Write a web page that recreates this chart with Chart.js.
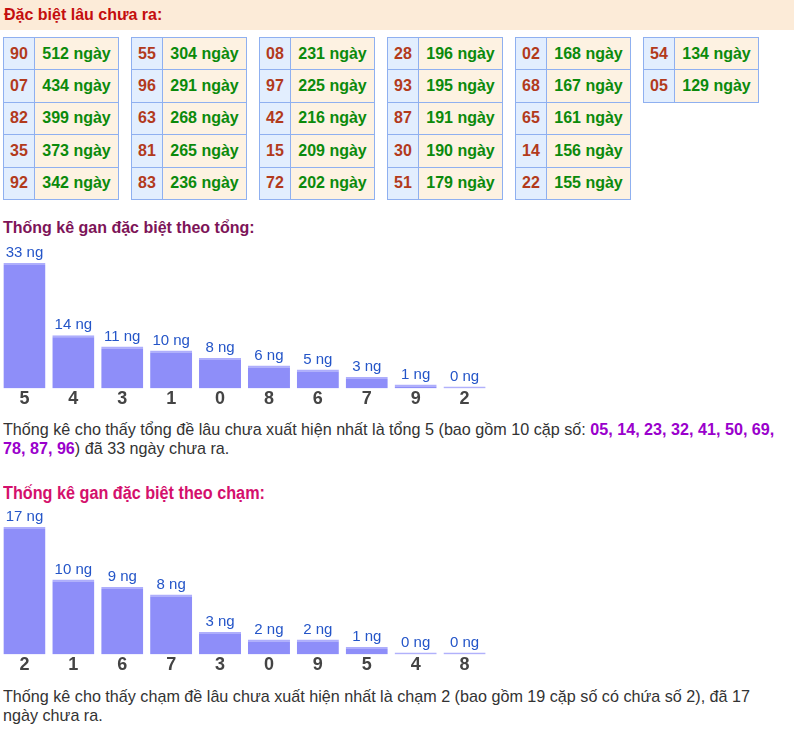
<!DOCTYPE html>
<html lang="vi">
<head>
<meta charset="utf-8">
<title>Gan đặc biệt</title>
<script src="https://cdn.jsdelivr.net/npm/chart.js@4.4.1/dist/chart.umd.min.js"></script>
<style>
    body { margin: 0; width: 794px; height: 730px; position: relative; background: #fff; font-family: "Liberation Sans", Arial, sans-serif; overflow: hidden; }
    .head { position: absolute; left: 0; top: 0; width: 794px; height: 30px; background: #fcebd8; color: #c40e0e; font-weight: bold; font-size: 16px; line-height: 29px; padding-left: 4px; box-sizing: border-box; }
    .tables { position: absolute; left: 3px; top: 37px; }
    .tables table { position: absolute; top: 0; width: 115px; table-layout: fixed; border-collapse: collapse; font-weight: bold; font-size: 16px; white-space: nowrap; }
    .tables td { border: 1px solid #8fb0f0; height: 31.4px; padding: 0; text-align: center; }
    .tables td.so { background: #e2eefe; color: #b23a1c; }
    .tables td.ngay { background: #fdf2e2; color: #0b8a0b; }
    h3 { position: absolute; left: 3px; margin: 0; font-size: 16px; line-height: 18px; white-space: nowrap; }
    .t1 { top: 219px; color: #7d1458; }
    .t2 { top: 484px; color: #d4106c; font-size: 18px; transform: scaleX(0.9); transform-origin: left center; }
    .box { position: absolute; left: 0; width: 489px; }
    p { position: absolute; left: 3px; width: 821px; margin: 0; font-size: 17px; line-height: 19px; color: #333; transform: scaleX(0.95); transform-origin: left top; }
    p b { color: #9a00cc; }
</style>
</head>
<body>
<div class="head">Đặc biệt lâu chưa ra:</div>
<div class="tables" id="tables"></div>

<h3 class="t1">Thống kê gan đặc biệt theo tổng:</h3>
<div class="box" style="top:240px;height:170px"><canvas id="tong-chart"></canvas></div>
<p style="top:420px">Thống kê cho thấy tổng đề lâu chưa xuất hiện nhất là tổng 5 (bao gồm 10 cặp số: <b>05, 14, 23, 32, 41, 50, 69, 78, 87, 96</b>) đã 33 ngày chưa ra.</p>

<h3 class="t2">Thống kê gan đặc biệt theo chạm:</h3>
<div class="box" style="top:505px;height:171px"><canvas id="cham-chart"></canvas></div>
<p style="top:687px">Thống kê cho thấy chạm đề lâu chưa xuất hiện nhất là chạm 2 (bao gồm 19 cặp số có chứa số 2), đã 17 ngày chưa ra.</p>

<script>
// cặp số lâu chưa ra và số ngày
const lauSo = ['90', '07', '82', '35', '92', '55', '96', '63', '81', '83',
    '08', '97', '42', '15', '72', '28', '93', '87', '30', '51',
    '02', '68', '65', '14', '22', '54', '05'];
const lauNgay = [512, 434, 399, 373, 342, 304, 291, 268, 265, 236,
    231, 225, 216, 209, 202, 196, 195, 191, 190, 179,
    168, 167, 161, 156, 155, 134, 129];

// gan theo tổng
const tongLabels = ['5', '4', '3', '1', '0', '8', '6', '7', '9', '2'];
const tongValues = [33, 14, 11, 10, 8, 6, 5, 3, 1, 0];

// gan theo chạm
const chamLabels = ['2', '1', '6', '7', '3', '0', '9', '5', '4', '8'];
const chamValues = [17, 10, 9, 8, 3, 2, 2, 1, 0, 0];

function buildTables() {
    const wrap = document.getElementById('tables');
    for (let t = 0; t * 5 < lauSo.length; t++) {
        const table = document.createElement('table');
        table.style.left = (t * 128) + 'px';
        table.innerHTML = '<colgroup><col style="width:31px"><col style="width:84px"></colgroup>';
        for (let i = t * 5; i < Math.min(t * 5 + 5, lauSo.length); i++) {
            const tr = document.createElement('tr');
            tr.innerHTML = '<td class="so">' + lauSo[i] + '</td><td class="ngay">' + lauNgay[i] + ' ngày</td>';
            table.appendChild(tr);
        }
        wrap.appendChild(table);
    }
}

// ghi "x ng" phía trên mỗi cột
const valueLabels = {
    id: 'valueLabels',
    afterDatasetsDraw(chart) {
        const ctx = chart.ctx;
        const meta = chart.getDatasetMeta(0);
        ctx.save();
        ctx.font = '15px "Liberation Sans", Arial, sans-serif';
        ctx.fillStyle = '#2455c8';
        ctx.textAlign = 'center';
        ctx.textBaseline = 'middle';
        meta.data.forEach((bar, i) => {
            const v = chart.data.datasets[0].data[i];
            ctx.fillText(v + ' ng', bar.x, Math.min(bar.y, chart.chartArea.bottom - 2) - 10);
        });
        ctx.restore();
    }
};

function makeChart(id, labels, values, padTop) {
    new Chart(document.getElementById(id), {
        type: 'bar',
        data: {
            labels: labels,
            datasets: [{
                data: values,
                backgroundColor: '#8e8ef9',
                borderColor: '#aeaefc',
                borderWidth: { top: 2, left: 0, right: 0, bottom: 0 },
                borderSkipped: 'bottom',
                minBarLength: 2,
                categoryPercentage: 1,
                barPercentage: 0.86
            }]
        },
        options: {
            responsive: true,
            maintainAspectRatio: false,
            animation: false,
            layout: { padding: { top: padTop, left: 0, right: 0, bottom: 0 } },
            plugins: { legend: { display: false }, tooltip: { enabled: false } },
            scales: {
                x: {
                    grid: { display: false, drawTicks: false },
                    border: { display: false },
                    ticks: {
                        padding: 0,
                        color: '#444',
                        font: { family: '"Liberation Sans", Arial, sans-serif', size: 18, weight: 'bold' }
                    }
                },
                y: {
                    display: false,
                    min: 0,
                    max: Math.max(...values)
                }
            }
        },
        plugins: [valueLabels]
    });
}

buildTables();
makeChart('tong-chart', tongLabels, tongValues, 23);
makeChart('cham-chart', chamLabels, chamValues, 22);
</script>
</body>
</html>
